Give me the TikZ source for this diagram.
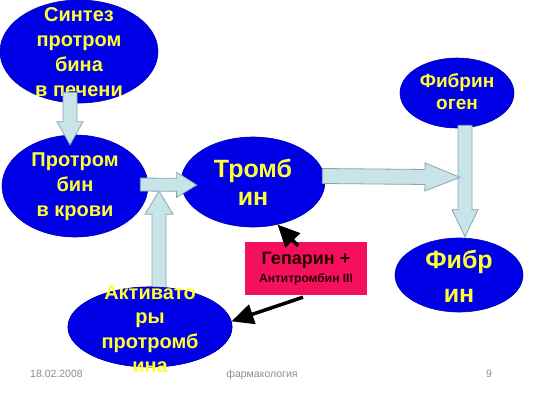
\documentclass[tikz,border=0pt]{standalone}
\usepackage{fontspec}
\setmainfont{Liberation Sans}
\usetikzlibrary{arrows.meta,calc,shapes.geometric}
\definecolor{slBlue}{HTML}{0000E6}
\definecolor{slYellow}{HTML}{FFFF33}
\definecolor{slArrow}{HTML}{C8E4E8}
\definecolor{slEdge}{HTML}{8AA6AC}
\definecolor{slRed}{HTML}{F5105E}
\definecolor{slGrey}{HTML}{8C8C8C}
\tikzset{
  stage/.style={ellipse, fill=slBlue, draw=slBlue!75!black, line width=0.6pt, inner sep=0pt},
  stagetext/.style={text=slYellow, align=center, inner sep=0pt, font=\bfseries\fontsize{20}{25}\selectfont},
  blockarr/.style={fill=slArrow, draw=slEdge, line width=0.8pt},
  inhib/.style={line width=3.5pt, -{Triangle[length=22pt,width=20pt]}},
  foot/.style={text=slGrey, inner sep=0pt, font=\fontsize{10.5}{12}\selectfont}
}
% fat arrow: from, to, shaft half width, head length, head half width
\newcommand{\blockarrow}[5]{%
  \coordinate (hb) at ($(#2)!#4!(#1)$);
  \draw[blockarr] ($(#1)!#3!90:(#2)$) -- ($(hb)!#3!90:(#2)$) -- ($(hb)!#5!90:(#2)$) -- (#2)
    -- ($(hb)!#5!-90:(#2)$) -- ($(hb)!#3!-90:(#2)$) -- ($(#1)!#3!-90:(#2)$) -- cycle;
}
\begin{document}
\begin{tikzpicture}[x=1pt,y=-1pt]
  \useasboundingbox (0,0) rectangle (533,400);

  \node[stage, minimum width=158pt, minimum height=103pt] (synth) at (79,51.5) {};
  \node[stagetext] (synthT) at (79,52.5) {Синтез\\протром\\бина\\в печени};
  \node[stage, minimum width=146pt, minimum height=102pt] (proto) at (75,186) {};
  \node[stagetext] (protoT) at (75,187) {Протром\\бин\\в крови};
  \node[stage, minimum width=144pt, minimum height=90pt] (tromb) at (253,182) {};
  \node[stagetext, font=\bfseries\fontsize{25}{28}\selectfont] (trombT) at (253,182) {Тромб\\ин};
  \node[stage, minimum width=114pt, minimum height=70pt] (fibg) at (457,93) {};
  \node[stagetext, font=\bfseries\fontsize{19}{22}\selectfont] (fibgT) at (457,92) {Фибрин\\оген};
  \node[stage, minimum width=128pt, minimum height=74pt] (fibr) at (459,275) {};
  \node[stagetext, font=\bfseries\fontsize{25}{34}\selectfont] (fibrT) at (459,276) {Фибр\\ин};

  % fat arrows
  \coordinate (a1s) at ([xshift=-9pt,yshift=11pt]synth.south);
  \coordinate (a1e) at ([xshift=-5pt,yshift=-10pt]proto.north);
  \blockarrow{a1s}{a1e}{7pt}{23pt}{13pt}
  \coordinate (a2s) at ([xshift=-8pt,yshift=1.5pt]proto.east);
  \coordinate (a2e) at ([xshift=16pt,yshift=-3pt]tromb.west);
  \blockarrow{a2s}{a2e}{6.5pt}{20pt}{12.5pt}
  \coordinate (a5s) at ([xshift=8pt,yshift=3pt]fibg.south);
  \coordinate (a5e) at ([xshift=6pt,yshift=1pt]fibr.north);
  \blockarrow{a5s}{a5e}{7pt}{27pt}{13pt}
  \coordinate (a4s) at ([xshift=-3pt,yshift=6pt]tromb.east);
  \coordinate (a4e) at ($(a5s)+(-5,52)$);
  \blockarrow{a4s}{a4e}{7.5pt}{35pt}{14pt}

  \node[stage, minimum width=164pt, minimum height=80pt] (act) at (150,327) {};
  \coordinate (a3s) at ([xshift=9pt,yshift=-8pt]act.north);
  \coordinate (a3e) at ($(a2s)!0.333!(a2e)+(0,6.5)$);
  \blockarrow{a3s}{a3e}{7pt}{23pt}{14pt}
  \node[stage, minimum width=164pt, minimum height=80pt] (act) at (150,327) {};
  \node[stagetext, font=\bfseries\fontsize{20}{24.5}\selectfont] (actT) at (150,329) {Активато\\ры\\протромб\\ина};

  % inhibitor
  \node[fill=slRed, minimum width=122pt, minimum height=53pt, inner sep=0pt, align=center,
        font=\bfseries\fontsize{12}{18}\selectfont, text=black!85!red] (hep) at (306,268.5)
        {{\fontsize{18}{18}\selectfont Гепарин +}\\Антитромбин III};
  \draw[inhib] ([shift={(-8pt,-4pt)}]hep.north) -- (tromb.-60);
  \draw[inhib] ([shift={(-3pt,-2pt)}]hep.south) -- (act.4);

  \node[foot, anchor=base west] (date) at (30,377) {18.02.2008};
  \node[foot, anchor=base] (subj) at (262,377) {фармакология};
  \node[foot, anchor=base] (page) at (489,377) {9};
\end{tikzpicture}
\end{document}
